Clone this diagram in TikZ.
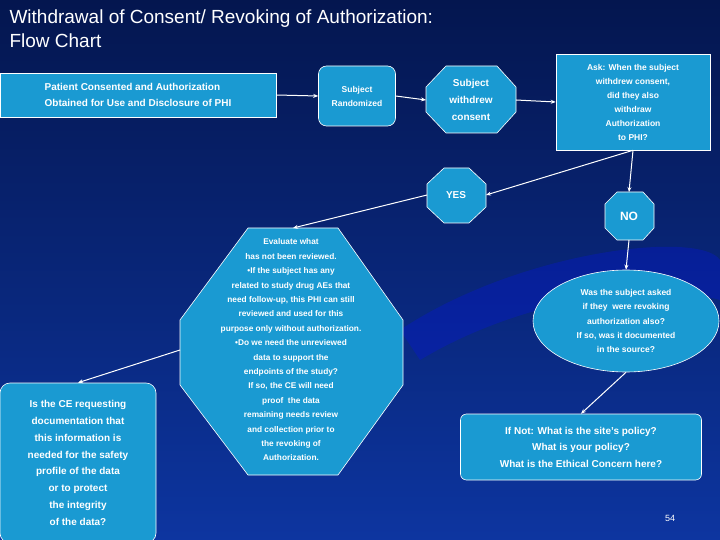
\documentclass[tikz,border=0pt]{standalone}
\usepackage{fontspec}
\setmainfont{Liberation Sans}
\usetikzlibrary{shapes.geometric,arrows.meta}
\definecolor{boxc}{HTML}{1A9AD2}
\definecolor{bgtop}{HTML}{04164F}
\definecolor{bgbot}{HTML}{0D35A0}
\tikzset{
  bx/.style={draw=white,fill=boxc,text=white,font=\bfseries,align=center,inner sep=1pt,line width=0.6pt},
  oct/.style={bx,regular polygon,regular polygon sides=8},
  arr/.style={draw=white,line width=1pt,-{Stealth[length=5pt,width=4pt]}}
}
\begin{document}
\begin{tikzpicture}[x=1pt,y=-1pt]
\shade[top color=bgtop,bottom color=bgbot] (0,0) rectangle (720,540);
\useasboundingbox (0,0) rectangle (720,540);
\fill[blue!60!bgbot,opacity=0.35] (400,330) .. controls (520,250) and (700,230) .. (720,260) -- (720,300) .. controls (650,280) and (520,300) .. (420,360) -- cycle;
\node[anchor=north west,text=white,align=left,font=\fontsize{19}{24}\selectfont] (title) at (6,6) {Withdrawal of Consent/ Revoking of Authorization:\\Flow Chart};
\node[bx,minimum width=276,minimum height=44,font=\bfseries\fontsize{10}{16}\selectfont,align=left] (a) at (138,95) {Patient Consented and Authorization\\Obtained for Use and Disclosure of PHI};
\node[bx,rounded corners=8pt,minimum width=77,minimum height=60,font=\bfseries\fontsize{8.5}{14}\selectfont] (b) at (357,96) {Subject\\Randomized};
\node[bx,minimum width=154,minimum height=96,font=\bfseries\fontsize{8.5}{14}\selectfont] (d) at (633,102) {Ask: When the subject\\withdrew consent,\\did they also\\withdraw\\Authorization\\to PHI?};
\begin{scope}
\node[bx,draw=none,fill=none,minimum size=1pt,font=\bfseries\fontsize{10}{17}\selectfont] (c) at (471,100) {Subject\\withdrew\\consent};
\end{scope}
\fill[boxc,draw=white,line width=0.6pt] (446,66)--(497,66)--(516,87)--(516,112)--(497,133)--(446,133)--(426,112)--(426,87)--cycle;
\node[text=white,font=\bfseries\fontsize{10}{17}\selectfont,align=center] at (471,100) {Subject\\withdrew\\consent};
\coordinate (cE) at (516,100);
\coordinate (cW) at (426,100);
% YES
\fill[boxc,draw=white,line width=0.6pt] (444,168)--(469,168)--(486,184)--(486,207)--(469,223)--(444,223)--(427,207)--(427,184)--cycle;
\node[text=white,font=\bfseries\fontsize{10}{12}\selectfont] (yes) at (456,195) {YES};
\coordinate (yesE) at (486,195);
\coordinate (yesW) at (427,195);
% NO
\fill[boxc,draw=white,line width=0.6pt] (617,192)--(643,192)--(654,204)--(654,228)--(643,240)--(617,240)--(605,228)--(605,204)--cycle;
\node[text=white,font=\bfseries\fontsize{12}{14}\selectfont] (no) at (629,216) {NO};
\coordinate (noT) at (629,192);
\coordinate (noB) at (629,240);
% Evaluate
\fill[boxc,draw=white,line width=0.6pt] (248,228)--(338,228)--(403,320)--(403,385)--(338,475)--(248,475)--(180,385)--(180,320)--cycle;
\node[text=white,font=\bfseries\fontsize{8.3}{14.4}\selectfont,align=center] (ev) at (291,350) {Evaluate what\\has not been reviewed.\\•If the subject has any\\related to study drug AEs that\\need follow-up, this PHI can still\\reviewed and used for this\\purpose only without authorization.\\•Do we need the unreviewed\\data to support the\\endpoints of the study?\\If so, the CE will need\\proof \ the data\\remaining needs review\\and collection prior to\\the revoking of\\Authorization.};
\coordinate (evT) at (293,228);
\coordinate (evW) at (180,350);
\node[bx,rounded corners=10pt,minimum width=156,minimum height=160,font=\bfseries\fontsize{10}{16.8}\selectfont] (ce) at (78,463) {Is the CE requesting\\documentation that\\this information is\\needed for the safety\\profile of the data\\or to protect\\the integrity\\of the data?};
\node[bx,ellipse,minimum width=186,minimum height=102,inner sep=0pt,font=\bfseries\fontsize{8.5}{14.4}\selectfont] (el) at (626,321) {Was the subject asked\\if they \ were revoking\\authorization also?\\If so, was it documented\\in the source?};
\node[bx,rounded corners=6pt,minimum width=241,minimum height=66,font=\bfseries\fontsize{10}{16.5}\selectfont] (pol) at (581,447) {If Not: What is the site’s policy?\\What is your policy?\\What is the Ethical Concern here?};
\node[text=white,font=\fontsize{9}{10}\selectfont] (pg) at (670,518) {54};
\draw[arr] (a.east) -- (b.west);
\draw[arr] (b.east) -- (cW);
\draw[arr] (cE) -- (d.west);
\draw[arr] (d.south) ++(0,0) -- (yesE);
\draw[arr] (d.south) -- (noT);
\draw[arr] (yesW) -- (evT);
\draw[arr] (evW) -- (ce.north);
\draw[arr] (noB) -- (el.north);
\draw[arr] (el.south) -- (pol.north);
\end{tikzpicture}
\end{document}
